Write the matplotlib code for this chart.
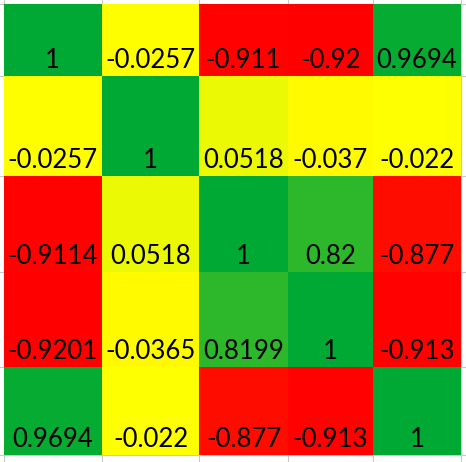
import numpy as np
import matplotlib
matplotlib.use('Agg')
import matplotlib.pyplot as plt
from matplotlib.colors import LinearSegmentedColormap, TwoSlopeNorm

# correlation table as shown in the sheet (displayed, rounded values)
labels = [
    ['1', '-0.0257', '-0.911', '-0.92', '0.9694'],
    ['-0.0257', '1', '0.0518', '-0.037', '-0.022'],
    ['-0.9114', '0.0518', '1', '0.82', '-0.877'],
    ['-0.9201', '-0.0365', '0.8199', '1', '-0.913'],
    ['0.9694', '-0.022', '-0.877', '-0.913', '1'],
]
values = np.array([[float(s) for s in row] for row in labels])

# cell borders of the spreadsheet (pixels)
col_edges = [3.5, 102, 199, 288, 373, 461]
row_edges = [3.5, 76, 176, 272, 367, 455]

# 3-colour scale: red (min) -> yellow (median) -> green (max)
cmap = LinearSegmentedColormap.from_list('ryg', ['#ff0000', '#ffff00', '#00a933'])
norm = TwoSlopeNorm(vmin=values.min(), vcenter=np.median(values), vmax=values.max())

fig = plt.figure(figsize=(4.66, 4.62), dpi=100)
ax = fig.add_axes([0, 0, 1, 1])
ax.set_xlim(0, 466)
ax.set_ylim(462, 0)
ax.axis('off')

# light sheet grid behind the cells
for x in col_edges:
    ax.axvline(x, color='#c8c8c8', lw=0.8, zorder=1)
for y in row_edges:
    ax.axhline(y, color='#c8c8c8', lw=0.8, zorder=1)

ax.pcolormesh(col_edges, row_edges, values, cmap=cmap, norm=norm, zorder=2)

for i in range(len(labels)):
    for j in range(len(labels[i])):
        cx = (col_edges[j] + col_edges[j + 1]) / 2
        ax.text(cx, row_edges[i + 1] - 8, labels[i][j], ha='center', va='baseline',
                fontsize=18.5, family='Lato', color='black', zorder=3)

fig.savefig('out.png', dpi=100)
